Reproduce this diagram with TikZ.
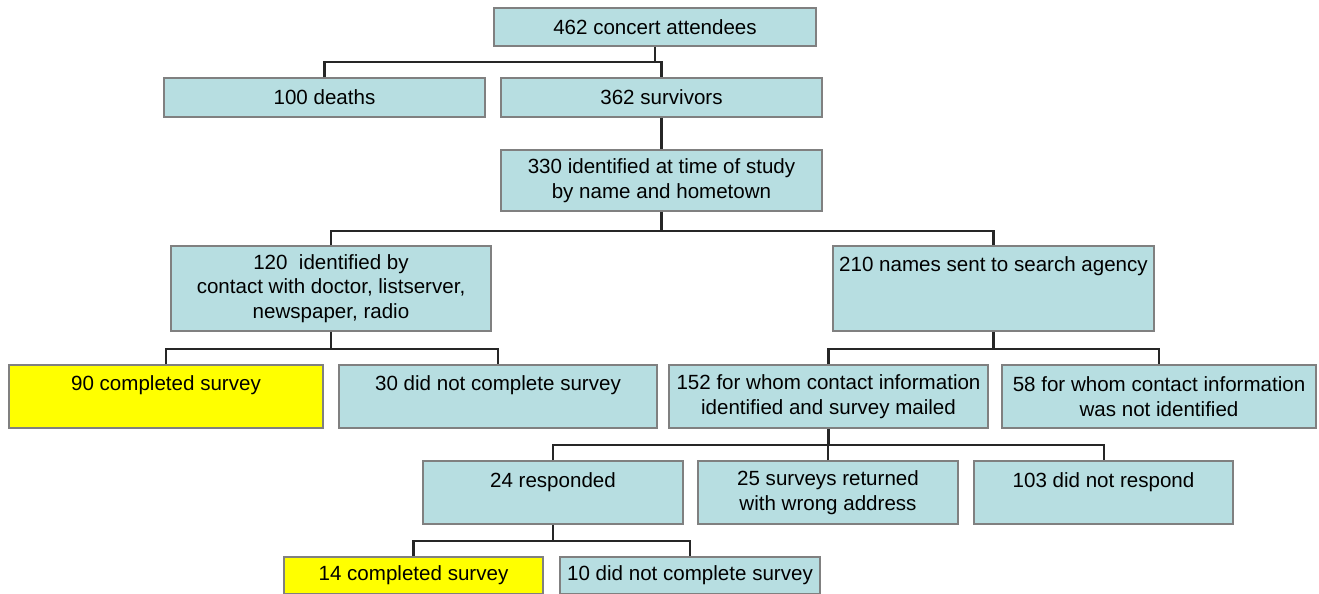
\documentclass[tikz,border=0pt]{standalone}
\usepackage{fontspec}
\setmainfont{Liberation Sans}
\definecolor{boxfill}{RGB}{183,222,225}
\definecolor{boxline}{RGB}{128,128,128}
\definecolor{ylw}{RGB}{255,255,0}
\begin{document}
\begin{tikzpicture}[x=0.02cm,y=-0.02cm,
  box/.style={draw=boxline, line width=0.8pt, fill=boxfill, inner sep=0pt, align=center,
    font=\fontsize{11.7}{14}\selectfont},
  ybox/.style={box, fill=ylw},
  sz/.style 2 args={minimum width=#1*0.02cm, minimum height=#2*0.02cm},
  toptext/.style 2 args={text height=#1*0.02cm, text depth=#2*0.02cm},
  conn/.style={line width=1.15pt, black!85}]
\useasboundingbox (0,0) rectangle (1319,594);

\node[box, sz={322}{38}] (top) at (655,27) {462 concert attendees};
\node[box, sz={321}{39}] (deaths) at (324.5,97.5) {100 deaths};
\node[box, sz={321}{39}] (surv) at (661.5,97.5) {362 survivors};
\node[box, sz={321}{61}] (ident) at (661.5,180.5) {330 identified at time of study\\by name and hometown};
\node[box, sz={320}{85}] (n120) at (331,288.5) {120\ \ identified by\\contact with doctor, listserver,\\newspaper, radio};
\node[box, sz={321}{85}, toptext={26}{59}] (n210) at (993.5,288.5) {210 names sent to search agency};
\node[ybox, sz={314}{63}, toptext={26}{37}] (n90) at (166,396.5) {90 completed survey};
\node[box, sz={318}{63}, toptext={26}{37}] (n30) at (498,396.5) {30 did not complete survey};
\node[box, sz={319}{63}] (n152) at (828.5,396.5) {152 for whom contact information\\identified and survey mailed};
\node[box, sz={314}{63}] (n58) at (1159,396.5) {58 for whom contact information\\was not identified};
\node[box, sz={260}{63}, toptext={27}{36}] (n24) at (553,492.5) {24 responded};
\node[box, sz={260}{63}] (n25) at (828,492.5) {25 surveys returned\\with wrong address};
\node[box, sz={259}{63}, toptext={27}{36}] (n103) at (1103.5,492.5) {103 did not respond};
\node[ybox, sz={259}{37}] (n14) at (413.5,575.5) {14 completed survey};
\node[box, sz={260}{37}] (n10) at (690,575.5) {10 did not complete survey};

\draw[conn] (top.south) -- (top.south |- 0,62);
\draw[conn] (deaths.north) |- (surv.north |- 0,62) -- (surv.north);
\draw[conn] (surv.south) -- (ident.north);
\draw[conn] (ident.south) -- (ident.south |- 0,231);
\draw[conn] (n120.north) |- (n210.north |- 0,231) -- (n210.north);
\draw[conn] (n120.south) -- (n120.south |- 0,349);
\draw[conn] (n90.north) |- (n30.north |- 0,349) -- (n30.north);
\draw[conn] (n210.south) -- (n210.south |- 0,349);
\draw[conn] (n152.north) |- (n58.north |- 0,349) -- (n58.north);
\draw[conn] (n152.south) -- (n152.south |- 0,445);
\draw[conn] (n24.north) |- (n103.north |- 0,445) -- (n103.north);
\draw[conn] (n25.north) -- (n25.north |- 0,445);
\draw[conn] (n24.south) -- (n24.south |- 0,541);
\draw[conn] (n14.north) |- (n10.north |- 0,541) -- (n10.north);
\end{tikzpicture}
\end{document}
